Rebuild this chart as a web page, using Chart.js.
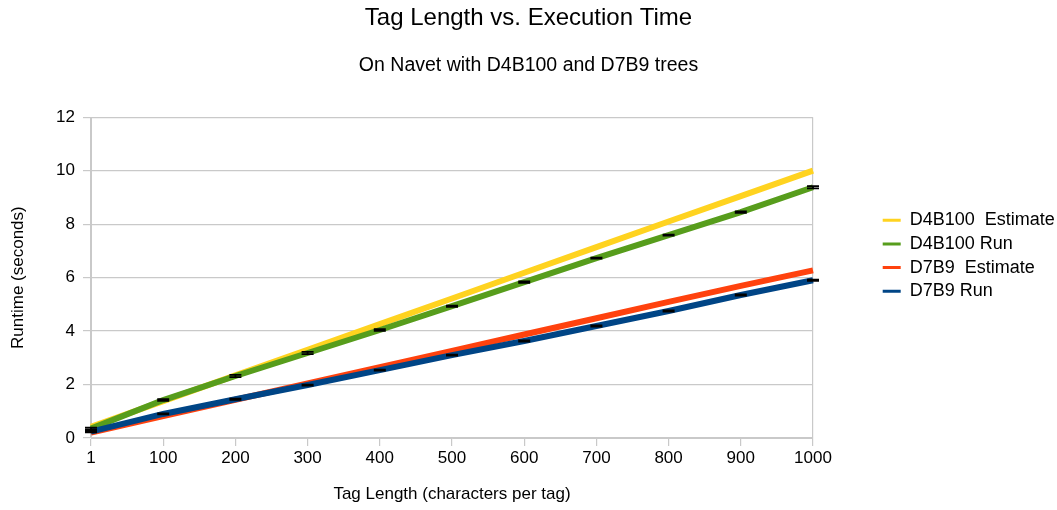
<!DOCTYPE html>
<html>
<head>
<meta charset="utf-8">
<title>Tag Length vs. Execution Time</title>
<script src="https://cdn.jsdelivr.net/npm/chart.js@4/dist/chart.umd.min.js"></script>
<style>
  html, body { margin: 0; padding: 0; background: #ffffff; }
  #wrap { width: 1057px; height: 510px; position: relative; }
</style>
</head>
<body>
<div id="wrap"><canvas id="chart" width="1057" height="510"></canvas></div>
<script>
// Tag lengths (characters per tag)
const tagLengths = ['1', '100', '200', '300', '400', '500', '600', '700', '800', '900', '1000'];

// Runtime in seconds
const d4b100Estimate = [0.42, 1.38, 2.34, 3.30, 4.26, 5.22, 6.18, 7.14, 8.10, 9.05, 10.0];
const d4b100Run      = [0.35, 1.42, 2.32, 3.18, 4.04, 4.93, 5.83, 6.73, 7.59, 8.45, 9.38];
const d7b9Estimate   = [0.20, 0.82, 1.43, 2.04, 2.65, 3.26, 3.87, 4.48, 5.09, 5.69, 6.27];
const d7b9Run        = [0.24, 0.90, 1.45, 1.98, 2.54, 3.10, 3.63, 4.19, 4.75, 5.35, 5.90];

// Spread of the measured runs (± seconds)
const d4b100RunErr = [0.04, 0.03, 0.04, 0.04, 0.03, 0.02, 0.03, 0.02, 0.02, 0.03, 0.04];
const d7b9RunErr   = [0.03, 0.02, 0.02, 0.02, 0.02, 0.02, 0.02, 0.02, 0.02, 0.02, 0.02];

const FONT = "'Liberation Sans', Arial, Helvetica, sans-serif";
const GRID = '#c9c9c9';
const PLOT_RIGHT = 813;

// Draws the ± spread of the run series as small black I-bars
const errorBars = {
  id: 'errorBars',
  afterDatasetsDraw(chart) {
    const ctx = chart.ctx;
    const yScale = chart.scales.y;
    chart.data.datasets.forEach((ds, i) => {
      if (!ds.errors) return;
      const meta = chart.getDatasetMeta(i);
      ctx.save();
      ctx.strokeStyle = '#000000';
      ctx.lineWidth = 1.8;
      meta.data.forEach((pt, j) => {
        const v = ds.data[j], e = ds.errors[j];
        const yHi = yScale.getPixelForValue(v + e);
        const yLo = yScale.getPixelForValue(v - e);
        const x = pt.x, half = 6;
        ctx.beginPath();
        ctx.moveTo(x - half, yHi); ctx.lineTo(x + half, yHi);
        ctx.moveTo(x - half, yLo); ctx.lineTo(x + half, yLo);
        ctx.moveTo(x, yHi); ctx.lineTo(x, yLo);
        ctx.stroke();
      });
      ctx.restore();
    });
  }
};

// Centres the headings over the whole canvas and places the legend block
const blockPlacement = {
  id: 'blockPlacement',
  afterLayout(chart) {
    chart.boxes.forEach((box) => {
      if (box.position === 'top' && box.options && box.options.text !== undefined) {
        box.left = 0; box.right = chart.width; box.width = chart.width;
      }
    });
    const lg = chart.legend;
    if (!lg) return;
    const w = lg.width, h = lg.height;
    lg.left = 877; lg.right = 877 + w;
    lg.top = 205.5; lg.bottom = 205.5 + h;
  }
};

const chart = new Chart(document.getElementById('chart'), {
  type: 'line',
  data: {
    labels: tagLengths,
    datasets: [
      { label: 'D4B100  Estimate', data: d4b100Estimate, borderColor: '#ffd320', backgroundColor: '#ffd320', order: 4 },
      { label: 'D4B100 Run', data: d4b100Run, errors: d4b100RunErr, borderColor: '#579d1c', backgroundColor: '#579d1c', order: 3 },
      { label: 'D7B9  Estimate', data: d7b9Estimate, borderColor: '#ff420e', backgroundColor: '#ff420e', order: 2 },
      { label: 'D7B9 Run', data: d7b9Run, errors: d7b9RunErr, borderColor: '#004586', backgroundColor: '#004586', order: 1 }
    ]
  },
  options: {
    responsive: false,
    animation: false,
    devicePixelRatio: 1,
    layout: { padding: { left: 0, right: 60, top: 0, bottom: 0 } },
    elements: {
      line: { borderWidth: 6, tension: 0, borderCapStyle: 'butt' },
      point: { radius: 0, hoverRadius: 0 }
    },
    scales: {
      x: {
        type: 'category',
        offset: false,
        afterFit(s) { s.height = 72; },
        grid: {
          color: (c) => (c.index === 0 || c.index === tagLengths.length - 1) ? GRID : 'rgba(0,0,0,0)',
          tickColor: GRID,
          tickLength: 8,
          lineWidth: 1.2
        },
        border: { display: true, color: GRID },
        ticks: { color: '#000000', font: { family: FONT, size: 17 }, padding: 2, maxRotation: 0, autoSkip: false },
        title: {
          display: true,
          text: 'Tag Length (characters per tag)',
          color: '#000000',
          font: { family: FONT, size: 17 },
          padding: { top: 0, bottom: 5 }
        }
      },
      y: {
        min: 0,
        max: 12,
        afterFit(s) { s.width = 91; },
        grid: { color: GRID, tickColor: GRID, tickLength: 8, lineWidth: 1.2 },
        border: { display: true, color: GRID },
        ticks: { stepSize: 2, color: '#000000', font: { family: FONT, size: 17 }, padding: 8 },
        title: {
          display: true,
          text: 'Runtime (seconds)',
          color: '#000000',
          font: { family: FONT, size: 17 },
          padding: { top: 8, bottom: 0 }
        }
      }
    },
    plugins: {
      title: {
        display: true,
        text: 'Tag Length vs. Execution Time',
        color: '#000000',
        font: { family: FONT, size: 24, weight: 'normal' },
        padding: { top: 4, bottom: 0 }
      },
      subtitle: {
        display: true,
        text: 'On Navet with D4B100 and D7B9 trees',
        color: '#000000',
        font: { family: FONT, size: 19.5, weight: 'normal' },
        padding: { top: 21, bottom: 40 }
      },
      legend: {
        display: true,
        position: 'right',
        align: 'start',
        labels: {
          color: '#000000',
          font: { family: FONT, size: 18 },
          boxWidth: 18,
          boxHeight: 3,
          padding: 5.7,
          sort: (a, b) => a.datasetIndex - b.datasetIndex,
          generateLabels(c) {
            return c.data.datasets.map((ds, i) => ({
              text: ds.label,
              fillStyle: ds.borderColor,
              strokeStyle: ds.borderColor,
              lineWidth: 0,
              hidden: false,
              datasetIndex: i
            }));
          }
        }
      },
      tooltip: { enabled: false }
    }
  },
  plugins: [errorBars, blockPlacement]
});

// Keep the plot's right edge where the legend column begins
const shift = chart.chartArea.right - PLOT_RIGHT;
if (Math.abs(shift) > 0.5) {
  chart.options.layout.padding.right += shift;
  chart.update();
}
</script>
</body>
</html>
